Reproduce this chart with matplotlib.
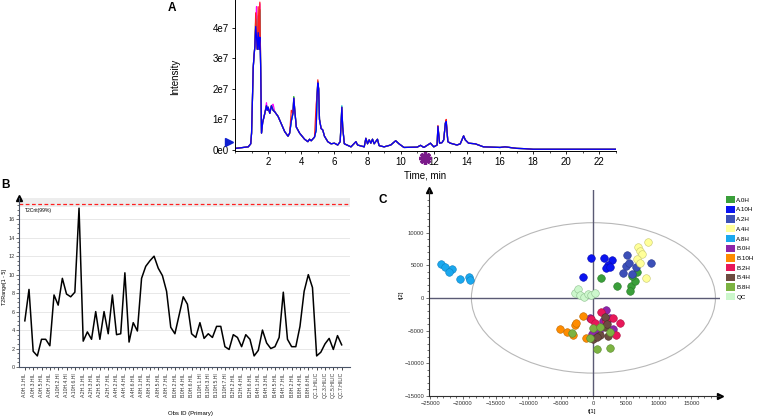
import matplotlib
matplotlib.use("Agg")
import matplotlib.pyplot as plt
from matplotlib.patches import Ellipse, Patch
from matplotlib.ticker import MultipleLocator

plt.rcParams['font.family'] = ['Liberation Sans', 'DejaVu Sans']

# ---------------- panel A: overlaid TICs (intensity in units of 1e7)
tic_time = [0.05, 0.8, 0.95, 1.0, 1.05, 1.1, 1.15, 1.2, 1.25, 1.3, 1.35, 1.4, 1.45, 1.5,
            1.55, 1.6, 1.67, 1.8, 1.9, 1.95, 2.0, 2.1, 2.2, 2.3, 2.4, 2.6, 2.8, 3.0, 3.2,
            3.3, 3.4, 3.5, 3.55, 3.6, 3.7, 3.9, 4.2, 4.4, 4.5, 4.6, 4.8, 4.9, 4.95, 5.0,
            5.05, 5.1, 5.2, 5.3, 5.4, 5.6, 5.8, 6.0, 6.2, 6.35, 6.45, 6.5, 6.6, 7.0, 7.3,
            7.4, 7.8, 7.9, 8.0, 8.1, 8.2, 8.3, 8.4, 8.6, 8.7, 9.0, 9.4, 9.7, 9.9, 10.2,
            11.0, 11.2, 11.4, 11.8, 12.0, 12.2, 12.25, 12.35, 12.5, 12.6, 12.7, 12.75,
            12.85, 13.0, 13.4, 13.6, 13.8, 13.9, 14.1, 14.5, 15.0, 16.0, 16.3, 17.0, 17.5,
            18.0, 23.0]
tic_blue = [0.05, 0.1, 0.2, 0.55, 1.6, 2.7, 3.1, 3.4, 4.05, 3.7, 3.3, 3.85, 3.3, 3.7,
            2.7, 0.55, 0.9, 1.2, 1.45, 1.3, 1.4, 1.2, 1.45, 1.3, 1.25, 1.1, 0.85, 0.6, 0.45,
            0.55, 0.95, 1.2, 1.7, 1.35, 0.75, 0.55, 0.35, 0.27, 0.35, 0.3, 0.42, 0.65, 1.75,
            2.2, 2.0, 1.0, 0.7, 0.65, 0.45, 0.27, 0.2, 0.22, 0.16, 0.27, 1.4, 0.75, 0.2, 0.1,
            0.27, 0.16, 0.1, 0.38, 0.2, 0.33, 0.22, 0.35, 0.2, 0.35, 0.14, 0.1, 0.16, 0.3,
            0.2, 0.08, 0.09, 0.15, 0.08, 0.22, 0.1, 0.16, 0.77, 0.22, 0.24, 0.33, 0.88, 0.93,
            0.27, 0.22, 0.16, 0.2, 0.46, 0.33, 0.22, 0.2, 0.1, 0.08, 0.1, 0.05, 0.04, 0.02,
            0.02]
# peak tops where the other injections rise above the blue trace
red_tops = {1.25: 4.5, 1.4: 4.7, 1.5: 4.85, 3.4: 1.3, 4.9: 1.5, 5.0: 2.3, 12.25: 0.8, 12.75: 1.0}
magenta_tops = {1.3: 4.7, 1.5: 4.8, 1.9: 1.55, 2.3: 1.5, 6.45: 1.3}
green_tops = {1.25: 4.3, 1.5: 4.6, 3.55: 1.75}
cyan_tops = {1.4: 4.4, 1.5: 4.5, 5.0: 2.25, 6.45: 1.45}

# ---------------- panel B: T2Range per observation
t2_range = [5.0, 8.4, 1.7, 1.2, 3.0, 3.0, 2.3, 7.8, 6.7, 9.6, 7.9, 7.6, 8.1, 17.2, 2.8,
            3.8, 3.0, 6.0, 3.0, 6.0, 3.6, 7.8, 3.5, 3.6, 10.2, 2.7, 4.8, 3.9, 9.6, 10.9,
            11.5, 12.0, 10.7, 9.9, 8.2, 4.3, 3.6, 5.6, 7.6, 6.8, 3.6, 3.2, 4.8, 3.1, 3.6,
            3.2, 4.4, 4.4, 2.2, 1.9, 3.5, 3.2, 2.2, 3.5, 3.0, 1.2, 1.8, 4.0, 2.6, 2.0, 2.2,
            3.2, 8.1, 3.0, 2.2, 2.2, 4.4, 8.2, 10.0, 8.6, 1.2, 1.6, 2.5, 3.1, 1.9, 3.4, 2.4]
t2_crit = 17.6
obs_labels = ['A.0H.1.HIL', 'A.0H.3.HIL', 'A.0H.5.HIL', 'A.0H.7.HIL', 'A.10H.2.HI',
              'A.10H.4.HI', 'A.10H.6.HI', 'A.2H.1.HIL', 'A.2H.3.HIL', 'A.2H.5.HIL',
              'A.2H.7.HIL', 'A.4H.2.HIL', 'A.4H.4.HIL', 'A.4H.6.HIL', 'A.8H.1.HIL',
              'A.8H.3.HIL', 'A.8H.5.HIL', 'A.8H.7.HIL', 'B.0H.2.HIL', 'B.0H.4.HIL',
              'B.0H.6.HIL', 'B.10H.1.HI', 'B.10H.3.HI', 'B.10H.5.HI', 'B.10H.7.HI',
              'B.2H.2.HIL', 'B.2H.4.HIL', 'B.2H.6.HIL', 'B.4H.1.HIL', 'B.4H.3.HIL',
              'B.4H.5.HIL', 'B.4H.7.HIL', 'B.8H.2.HIL', 'B.8H.4.HIL', 'B.8H.6.HIL',
              'QC.1.HILIC', 'QC.3.HILIC', 'QC.5.HILIC', 'QC.7.HILIC']

# ---------------- panel C: PCA scores
groups = ['A.0H', 'A.10H', 'A.2H', 'A.4H', 'A.8H', 'B.0H', 'B.10H', 'B.2H', 'B.4H', 'B.8H', 'QC']
scores_t1 = [
    [1100, 3600, 5700, 5600, 6300, 5900, 6700],
    [-400, 1600, 2800, 2200, 2000, 2600, -1600],
    [5100, 5000, 5500, 6500, 4600, 5900, 8800],
    [6800, 8400, 7200, 7500, 6700, 7100, 8000],
    [-23400, -22800, -21600, -22100, -20500, -19000, -18900],
    [1900, -600, 3000, 1500, 2500, 800, -200],
    [-1600, -2900, -2700, -5100, -4000, -3200, -1100],
    [1200, -300, 3000, 4100, 3500, 200, 2000],
    [1700, 1700, 2100, 1000, 2200, -100, 600],
    [-3300, -100, 1000, 2500, -600, 500, 2500],
    [-2800, -2300, -2100, -1500, -800, -300, 200],
]
scores_t2 = [
    [3100, 1800, 1800, 1000, 2600, 3300, 4000],
    [6100, 6100, 5800, 5100, 4500, 4800, 3200],
    [6600, 4900, 5300, 4800, 3800, 3600, 5300],
    [7800, 8500, 7100, 6700, 6000, 5400, 3100],
    [5200, 4800, 4400, 4000, 2900, 3200, 2800],
    [-1900, -3000, -4700, -3600, -3000, -5000, -5500],
    [-2700, -4100, -3900, -4700, -5200, -5700, -6200],
    [-2200, -3300, -3100, -3900, -5700, -3900, -3500],
    [-2900, -4400, -4000, -5700, -5800, -6300, -6000],
    [-5400, -4600, -4400, -5200, -6200, -7800, -7600],
    [800, 1300, 400, 200, 600, 400, 700],
]
ellipse_t1 = 18700
ellipse_t2 = 11500

group_colors = ['#3a9f3a', '#0a14f0', '#3c50b8', '#ffff99', '#1aa8ee', '#8e24aa',
                '#ff8c00', '#e8185a', '#6d4c41', '#7cb342', '#ccf7cc']
group_edges = ['#2a7a2a', '#0a0ab0', '#2a3a90', '#c8c870', '#1080c0', '#6a1a80',
               '#c06a00', '#b01040', '#4a3028', '#5a8a30', '#90c090']

W, H = 758, 419
fig = plt.figure(figsize=(W / 100, H / 100), dpi=100)


def px_box(left, top, right, bottom):
    return [left / W, 1 - bottom / H, (right - left) / W, (bottom - top) / H]


def axis_arrows(ax, color, x_arrow=True, y_arrow=True):
    # arrow heads at the open ends of the left/bottom spines
    if x_arrow:
        ax.plot(1, 0, '>', color=color, ms=4, transform=ax.transAxes, clip_on=False)
    if y_arrow:
        ax.plot(0, 1, '^', color=color, ms=4, transform=ax.transAxes, clip_on=False)


# ---- A
axA = fig.add_axes(px_box(235, 0, 616, 150.5))
trace_specs = [('#ff00ff', magenta_tops), ('#00c000', green_tops), ('#00d0d0', cyan_tops),
               ('#ff2020', red_tops), ('#0000ff', {})]
for color, tops in trace_specs:
    vals = [tops.get(t, v) for t, v in zip(tic_time, tic_blue)]
    axA.plot(tic_time, vals, color=color, lw=0.9)
axA.set_xlim(0, 23)
axA.set_ylim(-0.02, 4.92)
axA.set_yticks([0, 1, 2, 3, 4])
axA.set_yticklabels(['0e0', '1e7', '2e7', '3e7', '4e7'])
axA.set_xticks(range(2, 23, 2))
axA.xaxis.set_minor_locator(MultipleLocator(1))
axA.tick_params(labelsize=7, length=2.5, width=0.6, pad=2)
axA.tick_params(which='minor', length=1.5, width=0.5)
for side in ['top', 'right']:
    axA.spines[side].set_visible(False)
for side in ['left', 'bottom']:
    axA.spines[side].set_linewidth(0.7)
axA.plot(-0.35, 0.25, '>', color='#1020d0', ms=6, clip_on=False)
axA.plot(11.46, -0.28, marker=(8, 2, 0), color='#7a1a8a', ms=9, mew=2.4, clip_on=False)
fig.text(175 / W, 1 - 77 / H, 'Intensity', rotation=90, fontsize=7, ha='center', va='center')
fig.text(425 / W, 1 - 175 / H, 'Time, min', fontsize=7, ha='center', va='center')
fig.text(172 / W, 1 - 8 / H, 'A', fontsize=8.5, fontweight='bold', ha='center', va='center')

# ---- B
axis_grey = '#4a5468'
axB = fig.add_axes(px_box(19, 198, 350, 367))
axB.axhspan(17.3, 18.3, color='#ededed', lw=0, zorder=0)
for g in range(2, 18, 2):
    axB.axhline(g, color='#e4e4e4', lw=0.6, zorder=0)
obs_idx = list(range(len(t2_range)))
axB.plot(obs_idx, t2_range, color='black', lw=1.1)
axB.axhline(t2_crit, color='#ff2020', lw=0.9, ls=(0, (3, 2)))
axB.text(0.1, 16.9, 'T2Crit(99%)', fontsize=3.6, ha='left', va='center')
axB.set_xlim(-1.4, 78)
axB.set_ylim(0, 18.3)
axB.set_xticks(obs_idx[::2])
axB.set_xticklabels(obs_labels, rotation=90, fontsize=3.7, color='#333333')
axB.set_xticks(obs_idx, minor=True)
axB.set_yticks(range(0, 17, 2))
axB.yaxis.set_minor_locator(MultipleLocator(0.5))
axB.tick_params(axis='y', labelsize=4.0, length=2, width=0.5, pad=1, colors='#333333')
axB.tick_params(axis='x', length=2, width=0.5, pad=1.5)
axB.tick_params(which='minor', length=1.2, width=0.4)
for side in ['top', 'right']:
    axB.spines[side].set_visible(False)
for side in ['left', 'bottom']:
    axB.spines[side].set_color(axis_grey)
    axB.spines[side].set_linewidth(0.8)
axis_arrows(axB, 'black', x_arrow=False)
fig.text(5 / W, 1 - 287 / H, 'T2Range[1 - 5]', rotation=90, fontsize=3.9, ha='center', va='center')
fig.text(190 / W, 1 - 413 / H, 'Obs ID (Primary)', fontsize=4.3, ha='center', va='center')
fig.text(6 / W, 1 - 185 / H, 'B', fontsize=8.5, fontweight='bold', ha='center', va='center')

# ---- C
axC = fig.add_axes(px_box(429, 190, 720, 396))
axC.add_patch(Ellipse((0, 0), 2 * ellipse_t1, 2 * ellipse_t2, fill=False, ec='#b8b8b8', lw=0.8))
axC.axhline(0, color='#5a5a74', lw=1.0, zorder=1)
axC.axvline(0, color='#5a5a74', lw=1.0, zorder=1)
for name, xs, ys, fc, ec in zip(groups, scores_t1, scores_t2, group_colors, group_edges):
    axC.scatter(xs, ys, s=30, color=fc, edgecolors=ec, linewidths=0.4, zorder=3)
axC.set_xlim(-25200, 19400)
axC.set_ylim(-15000, 16500)
axC.set_xticks(range(-25000, 15001, 5000))
axC.set_yticks(range(-15000, 10001, 5000))
axC.xaxis.set_minor_locator(MultipleLocator(1000))
axC.yaxis.set_minor_locator(MultipleLocator(1000))
axC.tick_params(labelsize=4.2, length=2, width=0.5, pad=1.5, colors='#333333')
axC.tick_params(which='minor', length=1.2, width=0.4)
for side in ['top', 'right']:
    axC.spines[side].set_visible(False)
for side in ['left', 'bottom']:
    axC.spines[side].set_color('#303030')
    axC.spines[side].set_linewidth(0.8)
axis_arrows(axC, 'black')
handles = [Patch(facecolor=c, edgecolor='none') for c in group_colors]
fig.legend(handles, groups, loc='upper left', bbox_to_anchor=(726 / W, 1 - 196 / H),
           frameon=False, fontsize=4.5, handlelength=1.4, handleheight=1.4,
           handletextpad=0.25, labelspacing=0.4, borderpad=0, borderaxespad=0)
fig.text(401 / W, 1 - 295 / H, 't[2]', rotation=90, fontsize=4.3, ha='center', va='center')
fig.text(592 / W, 1 - 411 / H, 't[1]', fontsize=4.3, ha='center', va='center')
fig.text(383 / W, 1 - 200 / H, 'C', fontsize=8.5, fontweight='bold', ha='center', va='center')

fig.savefig('out.png', dpi=100)
